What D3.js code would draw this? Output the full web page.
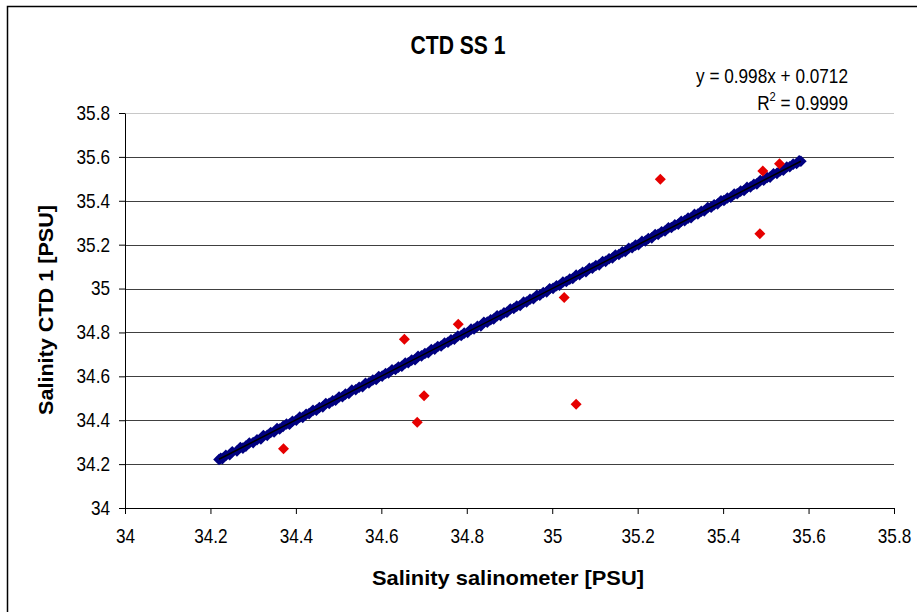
<!DOCTYPE html>
<html><head><meta charset="utf-8">
<script src="https://cdn.jsdelivr.net/npm/d3@7"></script>
<style>
html,body{margin:0;padding:0;background:#fff;}
text{font-family:"Liberation Sans",Arial,sans-serif;}
</style></head>
<body><svg id="c" width="917" height="612"></svg>
<script>
const chartTitle = "CTD SS 1";
const xAxisTitle = "Salinity salinometer [PSU]";
const yAxisTitle = "Salinity CTD 1 [PSU]";
const xTicks = [34, 34.2, 34.4, 34.6, 34.8, 35, 35.2, 35.4, 35.6, 35.8];
const yTicks = [34, 34.2, 34.4, 34.6, 34.8, 35, 35.2, 35.4, 35.6, 35.8];
const equationText = "y = 0.998x + 0.0712";
const r2Value = "0.9999";

// CTD vs salinometer samples (blue)
const blueX = [34.220,34.224,34.228,34.236,34.245,34.251,34.262,34.270,34.276,34.283,34.291,34.300,34.309,34.318,34.324,34.333,34.341,34.349,34.356,34.362,34.370,34.378,34.385,34.392,34.401,34.409,34.416,34.424,34.431,34.440,34.448,34.455,34.463,34.470,34.478,34.486,34.493,34.501,34.509,34.516,34.524,34.531,34.540,34.548,34.556,34.563,34.571,34.580,34.588,34.594,34.602,34.610,34.617,34.625,34.633,34.640,34.648,34.656,34.663,34.671,34.679,34.686,34.694,34.702,34.710,34.717,34.725,34.732,34.740,34.748,34.756,34.763,34.771,34.779,34.787,34.794,34.802,34.810,34.817,34.825,34.833,34.840,34.848,34.856,34.863,34.871,34.879,34.887,34.894,34.902,34.910,34.917,34.925,34.933,34.940,34.948,34.956,34.964,34.971,34.979,34.987,34.994,35.002,35.010,35.017,35.025,35.033,35.041,35.048,35.056,35.064,35.071,35.079,35.087,35.094,35.102,35.110,35.118,35.125,35.133,35.141,35.148,35.156,35.164,35.171,35.179,35.187,35.195,35.202,35.210,35.218,35.225,35.233,35.241,35.248,35.256,35.264,35.272,35.279,35.287,35.295,35.302,35.310,35.318,35.325,35.333,35.341,35.349,35.356,35.364,35.372,35.379,35.387,35.395,35.402,35.410,35.418,35.426,35.433,35.441,35.449,35.456,35.464,35.472,35.479,35.487,35.495,35.503,35.510,35.518,35.526,35.533,35.541,35.549,35.556,35.564,35.572,35.578,35.582];
const blueY = [34.221,34.226,34.225,34.240,34.243,34.256,34.260,34.276,34.273,34.282,34.296,34.298,34.311,34.315,34.330,34.331,34.344,34.346,34.362,34.360,34.372,34.383,34.382,34.395,34.400,34.414,34.413,34.427,34.430,34.445,34.446,34.458,34.461,34.476,34.477,34.488,34.491,34.506,34.507,34.519,34.522,34.537,34.539,34.550,34.553,34.568,34.570,34.583,34.586,34.599,34.601,34.613,34.615,34.630,34.631,34.642,34.646,34.661,34.662,34.674,34.676,34.691,34.693,34.704,34.708,34.722,34.724,34.736,34.738,34.752,34.755,34.766,34.769,34.784,34.786,34.797,34.800,34.815,34.816,34.828,34.830,34.846,34.847,34.858,34.861,34.876,34.878,34.889,34.892,34.907,34.909,34.920,34.923,34.938,34.939,34.951,34.954,34.969,34.970,34.982,34.985,34.999,35.001,35.013,35.015,35.030,35.032,35.043,35.046,35.061,35.063,35.074,35.077,35.092,35.093,35.105,35.108,35.123,35.124,35.136,35.139,35.153,35.155,35.167,35.169,35.184,35.186,35.198,35.200,35.215,35.217,35.228,35.231,35.246,35.247,35.259,35.262,35.277,35.278,35.290,35.293,35.307,35.309,35.321,35.323,35.338,35.340,35.352,35.354,35.369,35.371,35.382,35.385,35.400,35.401,35.413,35.416,35.431,35.432,35.444,35.447,35.461,35.463,35.475,35.477,35.492,35.494,35.506,35.508,35.523,35.525,35.536,35.539,35.554,35.555,35.567,35.570,35.582,35.580];

// outliers (red)
const redX = [34.371, 34.654, 34.684, 34.700, 34.780, 35.028, 35.056, 35.253, 35.486, 35.493, 35.532];
const redY = [34.270, 34.769, 34.391, 34.512, 34.837, 34.959, 34.473, 35.498, 35.250, 35.536, 35.569];

// linear trend line endpoints
const trendX = [34.220, 35.582];
const trendY = [34.222, 35.580];

const svg = d3.select("#c");
const W = 917, H = 612;
const m = {left:125, right:894, top:113, bottom:508};
const SX = 0.86; // horizontal condensation of the original text rendering

svg.append("rect").attr("x",7.5).attr("y",6.5).attr("width",W).attr("height",H)
  .attr("fill","#fff").attr("stroke","#000").attr("stroke-width",1.5);

const x = d3.scaleLinear().domain([34, 35.8]).range([m.left, m.right]);
const y = d3.scaleLinear().domain([34, 35.8]).range([m.bottom, m.top]);

// gridlines
svg.append("g").selectAll("line").data(yTicks.slice(1)).join("line")
  .attr("x1", m.left).attr("x2", m.right)
  .attr("y1", d => Math.round(y(d)) + 0.5).attr("y2", d => Math.round(y(d)) + 0.5)
  .attr("stroke", d => d === 35.8 ? "#c8c8c8" : "#404040").attr("stroke-width", 1);

const fmt = d => d3.format("")(+d.toFixed(1));

const xAxis = svg.append("g").attr("transform", `translate(0,${m.bottom})`)
  .call(d3.axisBottom(x).tickValues(xTicks).tickFormat(fmt).tickSizeInner(6).tickSizeOuter(0).tickPadding(15));
const yAxis = svg.append("g").attr("transform", `translate(${m.left},0)`)
  .call(d3.axisLeft(y).tickValues(yTicks).tickFormat(fmt).tickSizeInner(6).tickSizeOuter(0).tickPadding(8));
[xAxis, yAxis].forEach(g => {
  g.select(".domain").attr("stroke","#000").attr("stroke-width",1);
  g.selectAll(".tick line").attr("stroke","#000");
  g.selectAll("text").attr("font-size",20).attr("fill","#000")
   .attr("font-family","'Liberation Sans',Arial,sans-serif");
});
xAxis.selectAll(".tick text").attr("transform", `scale(${SX},1)`);
yAxis.selectAll(".tick text").attr("x", -15 / SX).attr("transform", `scale(${SX},1)`);

const diamond = r => `M0,${-r}L${r},0L0,${r}L${-r},0Z`;

// blue points
svg.append("g").selectAll("path").data(blueX.map((v,i)=>[v, blueY[i]])).join("path")
  .attr("d", diamond(5.8))
  .attr("transform", d => `translate(${x(d[0])},${y(d[1])})`)
  .attr("fill", "#000080");

// red points
svg.append("g").selectAll("path").data(redX.map((v,i)=>[v, redY[i]])).join("path")
  .attr("d", diamond(5.5))
  .attr("transform", d => `translate(${x(d[0])},${y(d[1])})`)
  .attr("fill", "#e60000");

// trend line
svg.append("line")
  .attr("x1", x(trendX[0])).attr("y1", y(trendY[0]))
  .attr("x2", x(trendX[1])).attr("y2", y(trendY[1]))
  .attr("stroke", "#000").attr("stroke-width", 1.5);

// titles
svg.append("text").attr("x", 458).attr("y", 54).attr("text-anchor","middle")
  .attr("font-size", 25).attr("font-weight","bold")
  .attr("textLength", 95).attr("lengthAdjust","spacingAndGlyphs").text(chartTitle);
svg.append("text").attr("x", 508).attr("y", 585).attr("text-anchor","middle")
  .attr("font-size", 21).attr("font-weight","bold")
  .attr("textLength", 272).attr("lengthAdjust","spacingAndGlyphs").text(xAxisTitle);
svg.append("text").attr("transform", `translate(53,310) rotate(-90)`)
  .attr("text-anchor","middle").attr("font-size", 21).attr("font-weight","bold")
  .attr("textLength", 210).attr("lengthAdjust","spacingAndGlyphs").text(yAxisTitle);

// equation
const eq = svg.append("g").attr("transform", `translate(848,0) scale(${SX},1)`);
eq.append("text").attr("x", 0).attr("y", 83).attr("text-anchor","end")
  .attr("font-size", 20).text(equationText);
const r2 = eq.append("text").attr("x", 0).attr("y", 110).attr("text-anchor","end").attr("font-size", 20);
r2.append("tspan").text("R");
r2.append("tspan").attr("dy", -9).attr("font-size", 13).text("2");
r2.append("tspan").attr("dy", 9).text(" = " + r2Value);
</script></body></html>
